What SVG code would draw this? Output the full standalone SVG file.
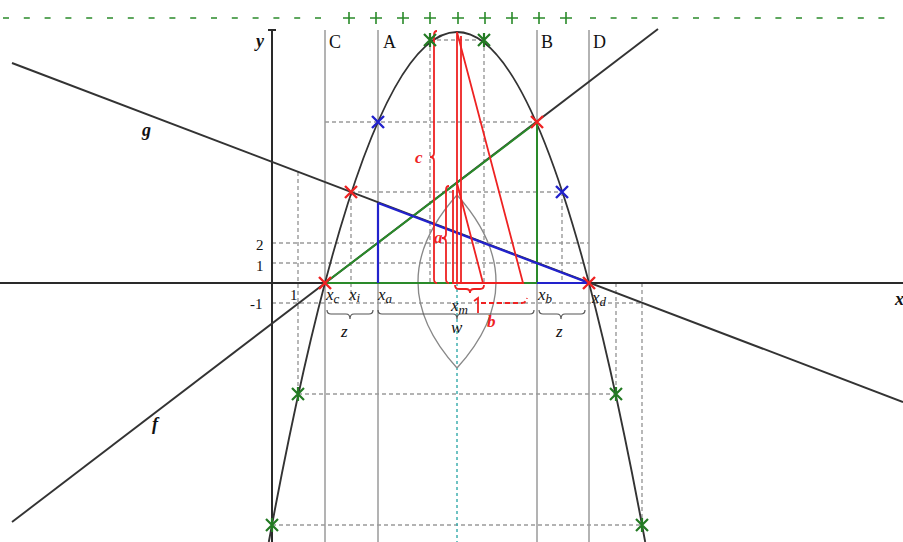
<svg xmlns="http://www.w3.org/2000/svg" width="903" height="542" viewBox="0 0 903 542">
<defs>
<style>
.ax{stroke:#2a2a2a;stroke-width:2;fill:none}
.vl{stroke:#9a9a9a;stroke-width:1.5;fill:none}
.dsh{stroke:#9a9a9a;stroke-width:1.4;stroke-dasharray:4 3;fill:none}
.crv{stroke:#333;stroke-width:1.9;fill:none}
.red{stroke:#ee2222;stroke-width:1.8;fill:none}
.grn{stroke:#2a8a2a;stroke-width:2;fill:none}
.blu{stroke:#2222cc;stroke-width:2.2;fill:none}
.t{font-family:"Liberation Serif",serif;fill:#111}
.it{font-family:"Liberation Serif",serif;font-style:italic;fill:#111}
.bi{font-family:"Liberation Serif",serif;font-style:italic;font-weight:bold;fill:#111}
.rb{font-family:"Liberation Serif",serif;font-style:italic;font-weight:bold;fill:#ee2222}
.brace{stroke:#555;stroke-width:1.2;fill:none}
</style>
<g id="xr"><path d="M-6,-6 L6,6 M-6,6 L6,-6" stroke="#ee2222" stroke-width="2.4"/></g>
<g id="xb"><path d="M-6,-6 L6,6 M-6,6 L6,-6" stroke="#2222cc" stroke-width="2.4"/></g>
<g id="xg"><path d="M-6,-6 L6,6 M-6,6 L6,-6 M0,-7 L0,7" stroke="#237a23" stroke-width="2.2"/></g>
<g id="pl"><path d="M-6,0 L6,0 M0,-6 L0,6" stroke="#2a8a2a" stroke-width="1.6"/></g>
</defs>
<rect width="903" height="542" fill="#fff"/>

<g id="topline">
<line x1="3" y1="18" x2="330" y2="18" stroke="#2a8a2a" stroke-width="1.4" stroke-dasharray="6 14.8"/>
<line x1="590" y1="18" x2="890" y2="18" stroke="#2a8a2a" stroke-width="1.4" stroke-dasharray="6 14.6"/>
<use href="#pl" x="349" y="18"/><use href="#pl" x="376" y="18"/><use href="#pl" x="403" y="18"/>
<use href="#pl" x="430" y="18"/><use href="#pl" x="458" y="18"/><use href="#pl" x="485" y="18"/>
<use href="#pl" x="512" y="18"/><use href="#pl" x="539" y="18"/><use href="#pl" x="566" y="18"/>
</g>

<g id="grid">
<path class="dsh" d="M430,40 H484 M325,122 H537 M351,192 H562 M272,243 H589 M272,263 H589 M272,303 H642 M298,394 H616 M272,525 H642"/>
<path class="dsh" d="M298,172 V394 M351,192 V303 M430,40 V283 M484,40 V283 M562,192 V283 M616,283 V394 M642,283 V525"/>
<line x1="457" y1="283" x2="457" y2="542" stroke="#33aaaa" stroke-width="1.4" stroke-dasharray="3 3"/>
</g>

<g id="verticals">
<line class="vl" x1="325" y1="30" x2="325" y2="542"/>
<line class="vl" x1="378" y1="30" x2="378" y2="542"/>
<line class="vl" x1="537" y1="30" x2="537" y2="542"/>
<line class="vl" x1="589" y1="30" x2="589" y2="542"/>
</g>

<g id="axes">
<line class="ax" x1="0" y1="283" x2="903" y2="283"/>
<line class="ax" x1="272" y1="30" x2="272" y2="542"/>
<line class="ax" x1="268" y1="30" x2="276" y2="30"/>
</g>

<g id="lines">
<line class="crv" x1="12" y1="63" x2="903" y2="402"/>
<line class="crv" x1="12" y1="522" x2="658" y2="29"/>
<path class="crv" d="M268.8,542 Q457,-478 645.2,542"/>
</g>

<g id="lens">
<path d="M457,195 Q379,282 457,368 M457,195 Q535,282 457,368" stroke="#888" stroke-width="1.3" fill="none"/>
</g>

<g id="triangles">
<path class="grn" d="M325,283 L537,122 L537,283 Z"/>
<path class="blu" d="M378,203 L589,283 L537,283 M378,203 L378,283"/>
</g>

<g id="redshapes">
<path class="red" d="M457,32 L523,283 L457,283 Z"/>
<path class="red" d="M461,36 V283"/>
<path class="red" d="M457,183 L483,283 L453,283 L453,190"/>
<path class="red" d="M437,31 q-3,0 -3,4 L434,153 q0,4 -4,4 q4,0 4,4 L434,279 q0,4 3,4"/>
<path class="red" d="M449,186 q-3,0 -3,4 L446,234 q0,4 -4,4 q4,0 4,4 L446,279 q0,4 3,4"/>
<path class="red" d="M455,285 q0,4 4,4 L466,289 q4,0 4,4 q0,-4 4,-4 L480,289 q4,0 4,-4"/>
<path class="red" d="M474,301 L478,298 L478,313"/>
<path class="red" stroke-dasharray="5 3" d="M481,303 L522,303 q4,0 5,-5"/>
</g>

<g id="braces">
<path class="brace" d="M327,310 q0,4 4,4 L346,314 q4,0 4,5 q0,-5 4,-5 L369,314 q4,0 4,-4"/>
<path class="brace" d="M378,310 q0,4 4,4 L453,314 q4,0 4,5 q0,-5 4,-5 L530,314 q4,0 4,-4"/>
<path class="brace" d="M539,310 q0,4 4,4 L557,314 q4,0 4,5 q0,-5 4,-5 L581,314 q4,0 4,-4"/>
</g>

<g id="marks">
<use href="#xr" x="325" y="283"/><use href="#xr" x="351" y="192"/>
<use href="#xr" x="537" y="122"/><use href="#xr" x="589" y="283"/>
<use href="#xb" x="378" y="122"/><use href="#xb" x="562" y="192"/>
<use href="#xg" x="430" y="40"/><use href="#xg" x="484" y="40"/>
<use href="#xg" x="298" y="394"/><use href="#xg" x="616" y="394"/>
<use href="#xg" x="272" y="525"/><use href="#xg" x="642" y="525"/>
</g>

<g id="labels">
<text class="bi" x="256" y="47" font-size="18">y</text>
<text class="t" x="329" y="48" font-size="18">C</text>
<text class="t" x="383" y="48" font-size="18">A</text>
<text class="t" x="541" y="48" font-size="18">B</text>
<text class="t" x="593" y="48" font-size="18">D</text>
<text class="bi" x="142" y="136" font-size="18">g</text>
<text class="bi" x="152" y="430" font-size="18">f</text>
<text class="bi" x="895" y="305" font-size="18">x</text>
<text class="t" x="256" y="250" font-size="15">2</text>
<text class="t" x="256" y="271" font-size="15">1</text>
<text class="t" x="250" y="309" font-size="15">-1</text>
<text class="t" x="290" y="300" font-size="15">1</text>
<text class="it" x="326" y="300" font-size="17">x<tspan font-size="13" dy="3">c</tspan></text>
<text class="it" x="349" y="300" font-size="17">x<tspan font-size="13" dy="2">i</tspan></text>
<text class="it" x="378" y="300" font-size="17">x<tspan font-size="13" dy="3">a</tspan></text>
<text class="it" x="538" y="300" font-size="17">x<tspan font-size="13" dy="3">b</tspan></text>
<text class="it" x="592" y="303" font-size="17">x<tspan font-size="13" dy="3">d</tspan></text>
<text class="it" x="451" y="311" font-size="17">x<tspan font-size="13" dy="3">m</tspan></text>
<text class="it" x="341" y="337" font-size="17">z</text>
<text class="it" x="451" y="333" font-size="17">w</text>
<text class="it" x="556" y="337" font-size="17">z</text>
<text class="rb" x="415" y="163" font-size="17">c</text>
<text class="rb" x="434" y="243" font-size="17">a</text>
<text class="rb" x="487" y="327" font-size="17">b</text>
</g>
</svg>
